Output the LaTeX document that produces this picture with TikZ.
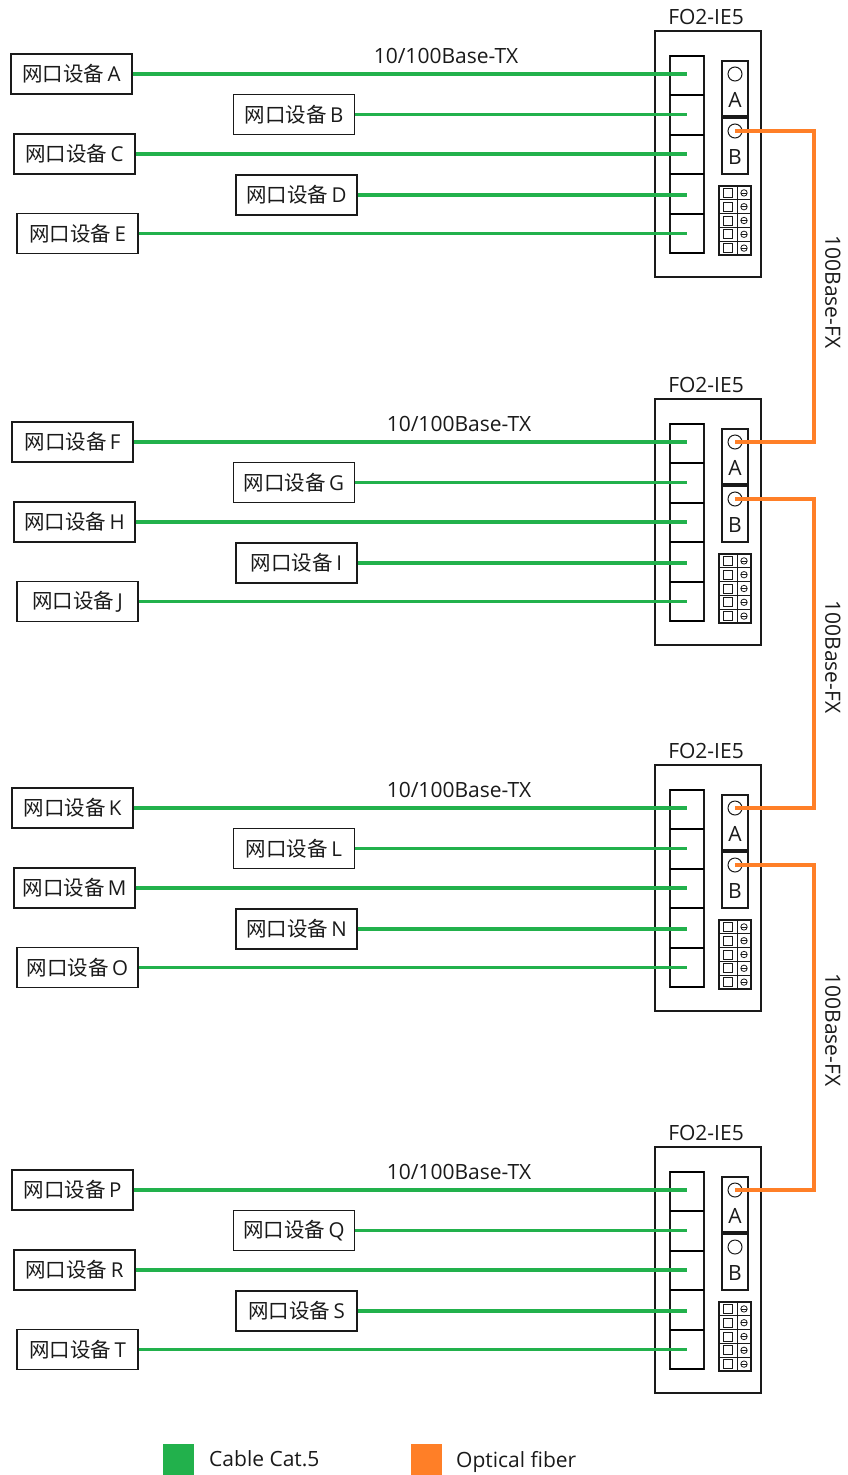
\documentclass[tikz,border=0pt]{standalone}
\usepackage{fontspec}
\setmainfont{Open Sans}
\newfontfamily\cjk{Noto Sans CJK SC}
\usetikzlibrary{calc}
\definecolor{cat}{HTML}{22B14C}
\definecolor{fib}{HTML}{FF7F27}
\definecolor{ink}{HTML}{1A1A1A}
\begin{document}
\begin{tikzpicture}[x=1pt,y=-1pt,
  dev/.style={draw=ink, line width=1.3pt, minimum width=121pt, minimum height=40pt, inner sep=0pt, font=\fontsize{20.5}{22}\selectfont, text=ink},
  swbox/.style={draw=ink, line width=1.3pt},
  cable/.style={cat, line width=3.6pt},
  fiber/.style={fib, line width=3.4pt},
  lbl/.style={font=\fontsize{21}{23}\selectfont, text=ink, inner sep=0pt},
  portlbl/.style={font=\fontsize{21}{23}\selectfont, text=ink, inner sep=0pt},
  ring/.style={circle, draw=ink, line width=1pt, minimum size=14pt, inner sep=0pt},
  thick div/.style={draw=black, line width=2.4pt}
]
\path[use as bounding box] (0,0) rectangle (848,1475);

\foreach \o/\s/\tw/\tx/\La/\Lb/\Lc/\Ld/\Le/\xa in
  {0/1/1.3/446/A/B/C/D/E/71.5,
   368/2/2.4/459/F/G/H/I/J/72.5,
   734/3/2.4/459/K/L/M/N/O/72.5,
   1116/4/2.4/459/P/Q/R/S/T/72.5}{
  % switch housing
  \node[swbox, minimum width=106pt, minimum height=246pt, inner sep=0pt] (sw\s) at (708,\o+154) {};
  \node[lbl, anchor=south] (t\s) at ($(sw\s.north)+(-2,-5)$) {FO2-IE5};
  % RJ45 column
  \draw[ink, line width=1.3pt] (670,\o+56) rectangle (704,\o+253);
  \foreach \yy in {95,135,174,214}
    \draw[thick div] (670,\o+\yy) -- (704,\o+\yy);
  \draw[black, line width=\tw pt] (670,\o+56) -- (704,\o+56);
  \draw[black, line width=\tw pt] (670,\o+253) -- (704,\o+253);
  % fiber ports
  \draw[ink, line width=1.3pt] (722,\o+61) rectangle (748,\o+116);
  \draw[ink, line width=1.3pt] (722,\o+118) rectangle (748,\o+174);
  \node[ring] (a\s) at (735,\o+74) {};
  \node[ring] (b\s) at (735,\o+131) {};
  \node[portlbl] (la\s) at (735,\o+100) {A};
  \node[portlbl] (lb\s) at (735,\o+157) {B};
  % terminal block
  \draw[ink, line width=1.2pt] (719,\o+186) rectangle (751,\o+255);
  \draw[ink, line width=1pt] (737,\o+186) -- (737,\o+255);
  \foreach \k in {0,...,4}{
    \pgfmathsetmacro{\ry}{\o+186+13.8*\k}
    \draw[ink, line width=0.8pt] (719,\ry) -- (751,\ry);
    \draw[ink, line width=1pt] (723.5,\ry+2.4) rectangle (732.5,\ry+11.4);
    \draw[ink, line width=0.8pt] (744,\ry+6.9) circle (3.2pt);
    \draw[ink, line width=0.8pt] (741,\ry+6.9) -- (747,\ry+6.9);
  }
  % devices and cables
  \node[lbl] (tx\s) at (\tx,\o+56) {10/100Base-TX};
  \foreach \l/\cx/\dy in {\La/\xa/74, \Lb/294/114.5, \Lc/74.5/154, \Ld/296.5/195, \Le/77.5/233.5}{
    \node[dev] (d\l) at (\cx,\o+\dy) {{\cjk 网口设备}\,\l};
    \coordinate (p\l) at (687,\o+\dy);
    \draw[cable] (d\l.east) -- (p\l);
  }
}

% fibers
\draw[fiber] (b1.center) -- ++(79,0) |- (a2.center);
\draw[fiber] (b2.center) -- ++(79,0) |- (a3.center);
\draw[fiber] (b3.center) -- ++(79,0) |- (a4.center);
\node[lbl, rotate=-90] (fx1) at (833,292) {100Base-FX};
\node[lbl, rotate=-90] (fx2) at (833,657) {100Base-FX};
\node[lbl, rotate=-90] (fx3) at (833,1030) {100Base-FX};

% legend
\node[fill=cat, minimum size=31pt, inner sep=0pt] (lg1) at (178.5,1459.5) {};
\node[lbl, anchor=west] (lgt1) at (209,1459) {Cable Cat.5};
\node[fill=fib, minimum size=31pt, inner sep=0pt] (lg2) at (426.5,1459.5) {};
\node[lbl, anchor=west] (lgt2) at (456,1462) {Optical fiber};
\end{tikzpicture}
\end{document}
